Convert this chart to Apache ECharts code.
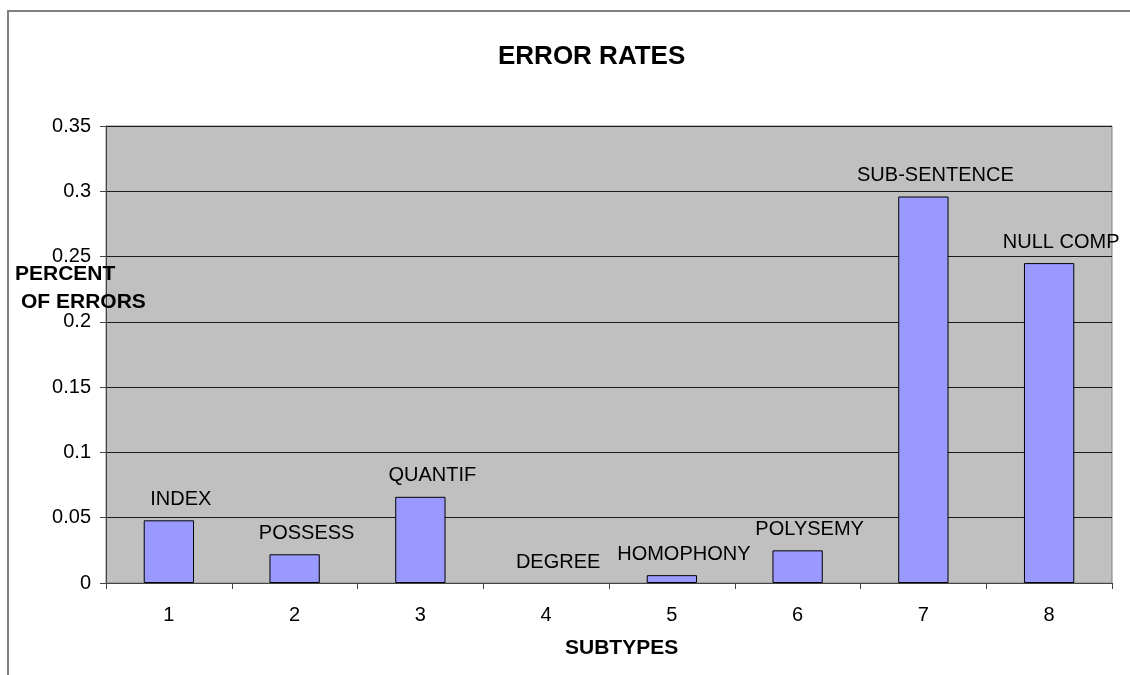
<!DOCTYPE html>
<html>
<head>
<meta charset="utf-8">
<script src="https://cdn.jsdelivr.net/npm/echarts@6/dist/echarts.min.js"></script>
<style>
  html, body { margin: 0; padding: 0; background: #fff; }
  #wrap { position: relative; width: 1130px; height: 675px; }
  #chart { width: 1130px; height: 675px; }
  /* chart-area frame like the spreadsheet export */
  #frame {
    position: absolute; left: 7px; top: 10px; right: 0; bottom: 0;
    border-left: 2px solid #808080; border-top: 2px solid #808080;
    pointer-events: none;
  }
</style>
</head>
<body>
<div id="wrap">
  <div id="chart"></div>
  <div id="frame"></div>
</div>
<script>
// categories (subtype numbers) and their names shown above the bars
const subtypes = ['1', '2', '3', '4', '5', '6', '7', '8'];
const subtypeNames = ['INDEX', 'POSSESS', 'QUANTIF', 'DEGREE', 'HOMOPHONY', 'POLYSEMY', 'SUB-SENTENCE', 'NULL COMP'];
// error rate per subtype
const errorRates = [0.048, 0.022, 0.066, 0, 0.006, 0.025, 0.296, 0.245];

const FONT = '"Liberation Sans", Arial, sans-serif';

const chart = echarts.init(document.getElementById('chart'));

// zero-height bars get no outline, so nothing shows on the axis
const barData = errorRates.map((v) => (v === 0 ? { value: v, itemStyle: { borderWidth: 0 } } : v));

const option = {
  animation: false,
  backgroundColor: '#fff',
  textStyle: { fontFamily: FONT },
  title: [
    {
      text: 'ERROR RATES',
      left: 498, top: 44, padding: 0,
      textStyle: { fontFamily: FONT, fontSize: 26, fontWeight: 'bold', color: '#000' },
    },
    {
      text: 'PERCENT',
      left: 15, top: 264, padding: 0,
      textStyle: { fontFamily: FONT, fontSize: 21, fontWeight: 'bold', color: '#000' },
    },
    {
      text: 'OF ERRORS',
      left: 21, top: 292, padding: 0,
      textStyle: { fontFamily: FONT, fontSize: 21, fontWeight: 'bold', color: '#000' },
    },
    {
      text: 'SUBTYPES',
      left: 565, top: 638, padding: 0,
      textStyle: { fontFamily: FONT, fontSize: 21, fontWeight: 'bold', color: '#000' },
    },
  ],
  grid: {
    left: 106,
    right: 18,
    top: 126,
    bottom: 92,
    show: true,
    backgroundColor: '#c0c0c0',
    borderColor: '#808080',
    borderWidth: 1,
  },
  xAxis: {
    type: 'category',
    data: subtypes,
    axisLine: { lineStyle: { color: '#444', width: 1 } },
    axisTick: { show: true, alignWithLabel: false, length: 6, lineStyle: { color: '#444' } },
    axisLabel: { color: '#000', fontSize: 20, fontFamily: FONT, margin: 22 },
    splitLine: { show: false },
  },
  yAxis: {
    type: 'value',
    min: 0,
    max: 0.35,
    interval: 0.05,
    axisLine: { show: true, lineStyle: { color: '#444', width: 1 } },
    axisTick: { show: true, length: 6, lineStyle: { color: '#444' } },
    axisLabel: { color: '#000', fontSize: 20, fontFamily: FONT, margin: 15 },
    splitLine: { show: true, lineStyle: { color: '#1a1a1a', width: 1 } },
  },
  series: [
    {
      type: 'bar',
      data: barData,
      barCategoryGap: '60%',
      itemStyle: { color: '#9999ff', borderColor: '#000', borderWidth: 1 },
      label: {
        show: true,
        position: 'top',
        distance: 11,
        offset: [12, 0],
        color: '#000',
        fontSize: 20,
        fontFamily: FONT,
        formatter: (p) => subtypeNames[p.dataIndex],
      },
    },
  ],
};

chart.setOption(option);
</script>
</body>
</html>
